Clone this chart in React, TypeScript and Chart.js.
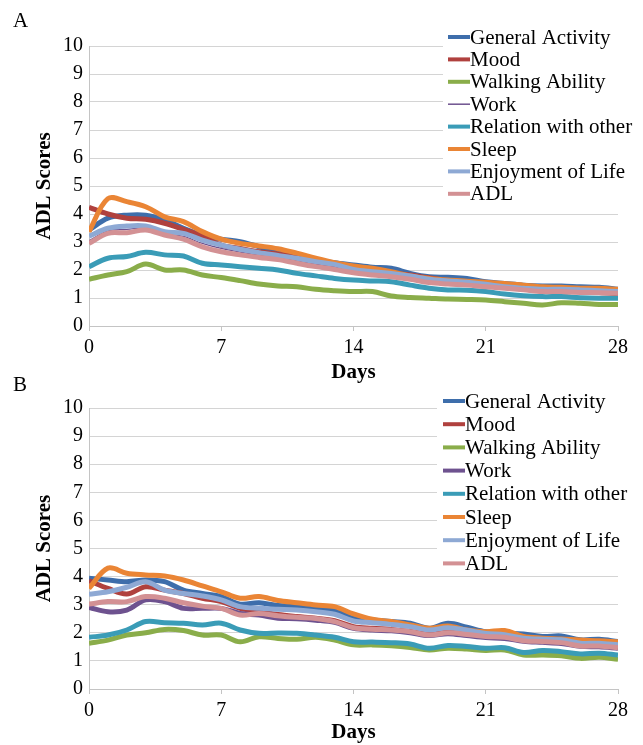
import React, { useEffect, useRef } from "react";
import { Chart, registerables } from "chart.js";

Chart.register(...registerables);

const DAYS = [0, 1, 2, 3, 4, 5, 6, 7, 8, 9, 10, 11, 12, 13, 14, 15, 16, 17, 18, 19, 20, 21, 22, 23, 24, 25, 26, 27, 28];
const X_TICKS = [0, 7, 14, 21, 28];
const SERIES_NAMES = ["General Activity", "Mood", "Walking Ability", "Work", "Relation with other", "Sleep", "Enjoyment of Life", "ADL"];
const SERIES_COLORS = ["#3E6EAB", "#B0413E", "#8AAD4A", "#6E528F", "#3A9CB7", "#EA8535", "#8EA9D4", "#D39194"];

// Panel A
const A_GENERAL = [3.43, 3.85, 3.96, 3.96, 3.79, 3.49, 3.25, 3.1, 3.01, 2.83, 2.65, 2.54, 2.36, 2.26, 2.18, 2.1, 2.06, 1.88, 1.76, 1.74, 1.7, 1.58, 1.52, 1.46, 1.43, 1.43, 1.4, 1.38, 1.31];
const A_MOOD = [4.24, 4.0, 3.85, 3.81, 3.67, 3.45, 3.21, 2.89, 2.77, 2.65, 2.57, 2.45, 2.33, 2.2, 2.1, 2.0, 1.9, 1.82, 1.72, 1.62, 1.52, 1.45, 1.38, 1.32, 1.26, 1.22, 1.22, 1.2, 1.15];
const A_WALKING = [1.67, 1.82, 1.94, 2.21, 2.0, 2.0, 1.82, 1.73, 1.62, 1.5, 1.43, 1.4, 1.31, 1.26, 1.23, 1.23, 1.07, 1.02, 0.99, 0.96, 0.95, 0.93, 0.87, 0.81, 0.75, 0.83, 0.81, 0.77, 0.77];
const A_WORK = [3.05, 3.4, 3.45, 3.5, 3.3, 3.2, 2.95, 2.77, 2.64, 2.53, 2.43, 2.33, 2.21, 2.11, 1.96, 1.88, 1.82, 1.73, 1.61, 1.55, 1.5, 1.44, 1.37, 1.32, 1.27, 1.27, 1.24, 1.22, 1.2];
const A_RELATION = [2.12, 2.42, 2.48, 2.63, 2.54, 2.5, 2.24, 2.18, 2.12, 2.06, 2.0, 1.88, 1.79, 1.7, 1.64, 1.61, 1.58, 1.46, 1.35, 1.29, 1.28, 1.23, 1.14, 1.08, 1.05, 1.05, 1.01, 0.99, 0.99];
const A_SLEEP = [3.37, 4.55, 4.44, 4.26, 3.9, 3.73, 3.37, 3.1, 2.95, 2.86, 2.76, 2.6, 2.42, 2.26, 2.14, 2.06, 1.94, 1.79, 1.7, 1.64, 1.6, 1.56, 1.52, 1.46, 1.4, 1.38, 1.35, 1.35, 1.31];
const A_ENJOY = [3.21, 3.49, 3.57, 3.57, 3.37, 3.31, 3.07, 2.89, 2.74, 2.62, 2.52, 2.42, 2.3, 2.2, 2.02, 1.94, 1.88, 1.79, 1.67, 1.61, 1.56, 1.49, 1.4, 1.35, 1.31, 1.31, 1.29, 1.26, 1.23];
const A_ADL = [2.95, 3.31, 3.33, 3.43, 3.25, 3.1, 2.83, 2.65, 2.54, 2.45, 2.37, 2.24, 2.12, 2.02, 1.9, 1.82, 1.76, 1.67, 1.55, 1.5, 1.46, 1.4, 1.35, 1.29, 1.23, 1.23, 1.2, 1.19, 1.17];

// Panel B
const B_GENERAL = [3.94, 3.88, 3.82, 3.88, 3.82, 3.52, 3.4, 3.29, 3.02, 3.07, 2.97, 2.95, 2.87, 2.79, 2.51, 2.46, 2.4, 2.34, 2.16, 2.34, 2.2, 2.04, 1.98, 1.96, 1.87, 1.89, 1.75, 1.77, 1.69];
const B_MOOD = [3.85, 3.58, 3.38, 3.64, 3.52, 3.4, 3.23, 3.11, 2.87, 2.75, 2.65, 2.58, 2.52, 2.43, 2.22, 2.16, 2.12, 2.05, 1.95, 2.02, 1.95, 1.88, 1.85, 1.74, 1.7, 1.66, 1.56, 1.55, 1.5];
const B_WALKING = [1.63, 1.74, 1.92, 2.0, 2.12, 2.08, 1.92, 1.92, 1.68, 1.86, 1.8, 1.77, 1.84, 1.74, 1.57, 1.57, 1.54, 1.48, 1.39, 1.45, 1.42, 1.37, 1.39, 1.21, 1.21, 1.18, 1.09, 1.13, 1.06];
const B_WORK = [2.9, 2.75, 2.81, 3.17, 3.11, 2.87, 2.87, 2.87, 2.69, 2.63, 2.52, 2.5, 2.45, 2.37, 2.16, 2.1, 2.07, 2.0, 1.9, 1.97, 1.9, 1.83, 1.8, 1.7, 1.66, 1.62, 1.52, 1.5, 1.45];
const B_RELATION = [1.84, 1.92, 2.1, 2.4, 2.36, 2.34, 2.28, 2.34, 2.1, 1.98, 1.99, 1.98, 1.92, 1.84, 1.68, 1.67, 1.65, 1.6, 1.45, 1.55, 1.51, 1.45, 1.47, 1.3, 1.37, 1.33, 1.25, 1.27, 1.21];
const B_SLEEP = [3.58, 4.3, 4.12, 4.06, 4.02, 3.88, 3.67, 3.46, 3.23, 3.29, 3.15, 3.07, 2.99, 2.93, 2.67, 2.48, 2.4, 2.28, 2.16, 2.24, 2.1, 2.04, 2.08, 1.87, 1.81, 1.78, 1.74, 1.72, 1.68];
const B_ENJOY = [3.37, 3.46, 3.62, 3.82, 3.52, 3.4, 3.31, 3.17, 2.93, 2.87, 2.84, 2.81, 2.75, 2.66, 2.42, 2.36, 2.3, 2.22, 2.1, 2.18, 2.09, 1.98, 1.93, 1.81, 1.77, 1.75, 1.63, 1.63, 1.57];
const B_ADL = [3.02, 3.11, 3.11, 3.29, 3.23, 3.07, 2.95, 2.87, 2.63, 2.69, 2.61, 2.55, 2.51, 2.4, 2.18, 2.13, 2.1, 2.04, 1.92, 2.0, 1.94, 1.87, 1.84, 1.72, 1.69, 1.65, 1.53, 1.53, 1.47];

const A_SERIES = [A_GENERAL, A_MOOD, A_WALKING, A_WORK, A_RELATION, A_SLEEP, A_ENJOY, A_ADL];
const B_SERIES = [B_GENERAL, B_MOOD, B_WALKING, B_WORK, B_RELATION, B_SLEEP, B_ENJOY, B_ADL];

const SERIF = "'Liberation Serif', 'Times New Roman', serif";
const GRID = "#D4D4D4";
const AXIS = "#C4C4C4";

type PanelCfg = {
  letter: string;
  series: number[][];
  widths: number[];
  height: number;
  top: number;
  bottom: number;
  legend: { boxX: number; boxY: number; boxW: number; boxH: number; lineX: number; textX: number; rowY: number; rowGap: number };
  letterY: number;
};

function makeChart(canvas: HTMLCanvasElement, cfg: PanelCfg) {
  const n = cfg.series.length;
  const datasets = cfg.series.map((vals, i) => ({
    label: SERIES_NAMES[i],
    data: DAYS.map((d, j) => ({ x: d, y: vals[j] })),
    borderColor: SERIES_COLORS[i],
    backgroundColor: SERIES_COLORS[i],
    borderWidth: cfg.widths[i],
    pointRadius: 0,
    tension: 0.35,
    fill: false,
    order: n - 1 - i,
  }));

  const overlay = {
    id: "overlay-" + cfg.letter,
    afterDraw(chart: any) {
      const ctx = chart.ctx;
      const L = cfg.legend;
      ctx.save();
      ctx.fillStyle = "#ffffff";
      ctx.fillRect(L.boxX, L.boxY, L.boxW, L.boxH);
      ctx.font = `21px ${SERIF}`;
      ctx.textBaseline = "middle";
      ctx.textAlign = "left";
      SERIES_NAMES.forEach((name, i) => {
        const y = L.rowY + i * L.rowGap;
        ctx.strokeStyle = SERIES_COLORS[i];
        ctx.lineWidth = cfg.widths[i] < 2 ? 1.5 : 4;
        ctx.lineCap = "butt";
        ctx.beginPath();
        ctx.moveTo(L.lineX, y);
        ctx.lineTo(L.textX, y);
        ctx.stroke();
        ctx.fillStyle = "#000000";
        ctx.fillText(name, L.textX, y + 1);
      });
      ctx.font = `21px ${SERIF}`;
      ctx.fillText(cfg.letter, 13, cfg.letterY);
      ctx.restore();
    },
  };

  return new Chart(canvas, {
    type: "line",
    data: { datasets },
    plugins: [overlay],
    options: {
      animation: false,
      responsive: false,
      devicePixelRatio: 1,
      layout: { padding: { left: 0, right: 25, top: cfg.top, bottom: 0 } },
      plugins: { legend: { display: false }, tooltip: { enabled: false }, title: { display: false } },
      scales: {
        x: {
          type: "linear",
          min: 0,
          max: 28,
          afterFit: (s: any) => {
            s.height = cfg.height - cfg.bottom;
          },
          afterBuildTicks: (s: any) => {
            s.ticks = X_TICKS.map((v) => ({ value: v }));
          },
          ticks: {
            color: "#000",
            font: { family: SERIF, size: 20 },
            padding: 5,
            maxRotation: 0,
          },
          grid: { drawOnChartArea: false, drawTicks: true, tickLength: 5, tickColor: AXIS },
          border: { color: AXIS, width: 1 },
          title: {
            display: true,
            text: "Days",
            color: "#000",
            font: { family: SERIF, size: 21, weight: "bold" },
            padding: { top: 0, bottom: 0 },
          },
        },
        y: {
          min: 0,
          max: 10,
          afterFit: (s: any) => {
            s.width = 89;
          },
          ticks: {
            stepSize: 1,
            color: "#000",
            font: { family: SERIF, size: 20 },
            padding: 6,
          },
          grid: { color: GRID, drawTicks: false },
          border: { color: AXIS, width: 1 },
          title: {
            display: true,
            text: "ADL Scores",
            color: "#000",
            font: { family: SERIF, size: 21, weight: "bold" },
            padding: { top: 32, bottom: 0 },
          },
        },
      },
    },
  } as any);
}

const PANEL_A: PanelCfg = {
  letter: "A",
  series: A_SERIES,
  widths: [5, 5, 5, 1.2, 5, 5, 5, 5],
  height: 385,
  top: 46,
  bottom: 326,
  legend: { boxX: 443, boxY: 26, boxW: 200, boxH: 178, lineX: 448, textX: 470, rowY: 37, rowGap: 22.4 },
  letterY: 21,
};

const PANEL_B: PanelCfg = {
  letter: "B",
  series: B_SERIES,
  widths: [5, 5, 5, 5, 5, 5, 5, 5],
  height: 375,
  top: 38,
  bottom: 319,
  legend: { boxX: 437, boxY: 18, boxW: 206, boxH: 187, lineX: 443, textX: 465, rowY: 31, rowGap: 23.2 },
  letterY: 15,
};

function Panel({ cfg, top }: { cfg: PanelCfg; top: number }) {
  const ref = useRef<HTMLCanvasElement | null>(null);
  useEffect(() => {
    if (!ref.current) return;
    const chart = makeChart(ref.current, cfg);
    return () => chart.destroy();
  }, [cfg]);
  return (
    <canvas
      ref={ref}
      width={643}
      height={cfg.height}
      style={{ position: "absolute", left: 0, top, width: 643, height: cfg.height }}
    />
  );
}

export default function App() {
  return (
    <div style={{ position: "absolute", left: 0, top: 0, width: 643, height: 745, background: "#fff", overflow: "hidden" }}>
      <Panel cfg={PANEL_A} top={0} />
      <Panel cfg={PANEL_B} top={370} />
    </div>
  );
}
